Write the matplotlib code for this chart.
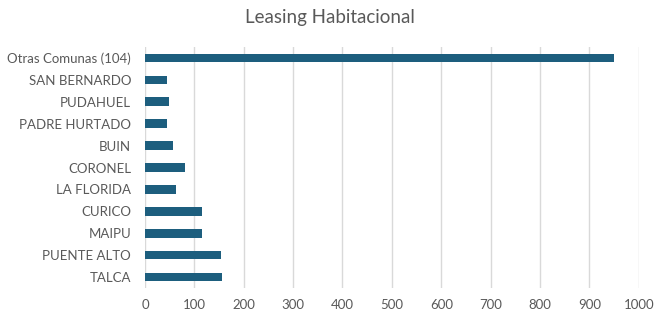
import matplotlib.pyplot as plt

comunas = ['TALCA', 'PUENTE ALTO', 'MAIPU', 'CURICO', 'LA FLORIDA', 'CORONEL',
           'BUIN', 'PADRE HURTADO', 'PUDAHUEL', 'SAN BERNARDO', 'Otras Comunas (104)']
valores = [156, 153, 116, 116, 62, 82, 56, 45, 48, 44, 950]
ticks = [0, 100, 200, 300, 400, 500, 600, 700, 800, 900, 1000]

plt.rcParams['font.family'] = ['Lato', 'DejaVu Sans']
gris = '#595959'

fig = plt.figure(figsize=(6.54, 3.14), dpi=100)
ax = fig.add_axes([0.2217, 0.083, 0.755, 0.767])
ax.barh(range(len(comunas)), valores, height=0.4, color='#1d5e7e', zorder=3)

ax.set_xlim(0, 1000)
ax.set_ylim(-0.5, len(comunas) - 0.5)
ax.set_xticks(ticks)
ax.set_yticks(range(len(comunas)))
ax.set_yticklabels(comunas)
ax.tick_params(length=0, colors=gris, labelsize=9.5)
ax.tick_params(axis='x', pad=8)
ax.tick_params(axis='y', pad=10)
ax.grid(axis='x', color='#d9d9d9', linewidth=1, zorder=0)
for s in ax.spines.values():
    s.set_visible(False)

fig.suptitle('Leasing Habitacional', x=0.505, y=0.97, fontsize=13.5, color=gris)

fig.savefig('out.png', dpi=100)
